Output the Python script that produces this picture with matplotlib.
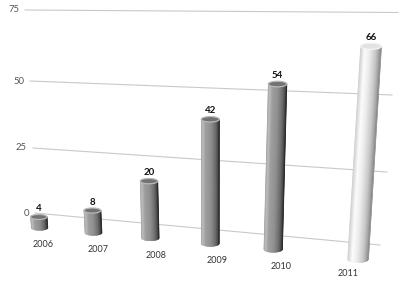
import numpy as np
import matplotlib.pyplot as plt
from matplotlib.patches import Ellipse
from matplotlib.collections import PolyCollection

plt.rcParams['font.family'] = ['Lato', 'DejaVu Sans']

years = ['2006', '2007', '2008', '2009', '2010', '2011']
values = [4, 8, 20, 42, 54, 66]
ticks = [0, 25, 50, 75]
highlight = '2011'

# back wall in perspective (pixels, y down), sampled at the tick values
left_x = [35, 33, 30, 25]
left_y = [213, 148, 81, 10]
right_x = [380, 387, 392, 398]
right_y = [245, 172, 95, 12.5]


def wall(u, v):
    lx = np.interp(v, ticks, left_x)
    ly = np.interp(v, ticks, left_y)
    rx = np.interp(v, ticks, right_x)
    ry = np.interp(v, ticks, right_y)
    return lx + u * (rx - lx), ly + u * (ry - ly)


def shade(s, pale):
    # s from -1 (left side) to 1 (right side) of the cylinder
    if pale:
        pts = [(-1, 0.80), (-0.55, 0.99), (-0.1, 0.93), (0.5, 0.78), (0.85, 0.62), (1, 0.50)]
    else:
        pts = [(-1, 0.62), (-0.8, 0.74), (-0.5, 0.62), (0.1, 0.56), (0.6, 0.42), (0.88, 0.28), (1, 0.14)]
    g = np.interp(s, [p[0] for p in pts], [p[1] for p in pts])
    return (g, g, g)


def cylinder(ax, xb, yb, xt, yt, w, pale):
    h = 0.3 * w
    n = 40
    s = np.linspace(-1, 1, n + 1)
    polys, cols = [], []
    for a, b in zip(s[:-1], s[1:]):
        da = h / 2 * np.sqrt(max(0, 1 - a * a))
        db = h / 2 * np.sqrt(max(0, 1 - b * b))
        polys.append([(xb + a * w / 2, yb + da), (xb + b * w / 2, yb + db),
                      (xt + b * w / 2, yt), (xt + a * w / 2, yt)])
        cols.append(shade((a + b) / 2, pale))
    ax.add_collection(PolyCollection(polys, facecolors=cols, edgecolors=cols, linewidths=0.3, zorder=3))
    edge = '#9a9a9a' if pale else '#2a2a2a'
    ax.plot([xb + w / 2, xt + w / 2], [yb, yt], color=edge, lw=0.6, zorder=4)
    top_face = '#e2e2e2' if pale else '#727272'
    rim = '#f4f4f4' if pale else '#b8b8b8'
    ax.add_patch(Ellipse((xt, yt), w, h, facecolor=top_face, edgecolor=rim, lw=0.9, zorder=5))


fig = plt.figure(figsize=(4, 2.84), dpi=100)
ax = fig.add_axes([0, 0, 1, 1])
ax.set_xlim(0, 400)
ax.set_ylim(284, 0)
ax.axis('off')

# gridlines and value axis labels
for t in ticks:
    x0, y0 = wall(0, t)
    x1, y1 = wall(1, t)
    ax.plot([x0, x1], [y0, y1], color='#c9c9c9', lw=0.8, zorder=1)
    ax.text(x0 - 6, y0, str(t), ha='right', va='center', fontsize=6.8, color='#555555')

for i, (yr, v) in enumerate(zip(years, values)):
    pop = yr == highlight
    xl = 43 + 55 * i + 1.5 * i * (i - 1)          # slot centre at the floor
    ul = (xl - 35) / 345
    xb = xl - 3.5 - 1.1 * i + (10 + 3.5 + 1.1 * i if pop else 0)
    u = (xb - 35) / 345
    w0 = wall(u, 0)[1]
    wv = wall(u, v)[1]
    yb = w0 + (16.5 if pop else 14.5)
    yt = yb - (1.06 if pop else 1.054) * (w0 - wv)
    xt = xb + (u - 0.5) * 0.14 * (yb - yt)
    w = (16.5 + 3 * u) * (1.08 if pop else 1.0)
    cylinder(ax, xb, yb, xt, yt, w, pop)
    ax.text(xt, yt - 0.15 * w - 1.2, str(v), ha='center', va='bottom', fontsize=7,
            fontweight='bold', color='#111111', zorder=6)
    ax.text(xl, wall(ul, 0)[1] + 31, yr, ha='center', va='center', fontsize=6.5, color='#333333')

fig.savefig('out.png', dpi=100)
